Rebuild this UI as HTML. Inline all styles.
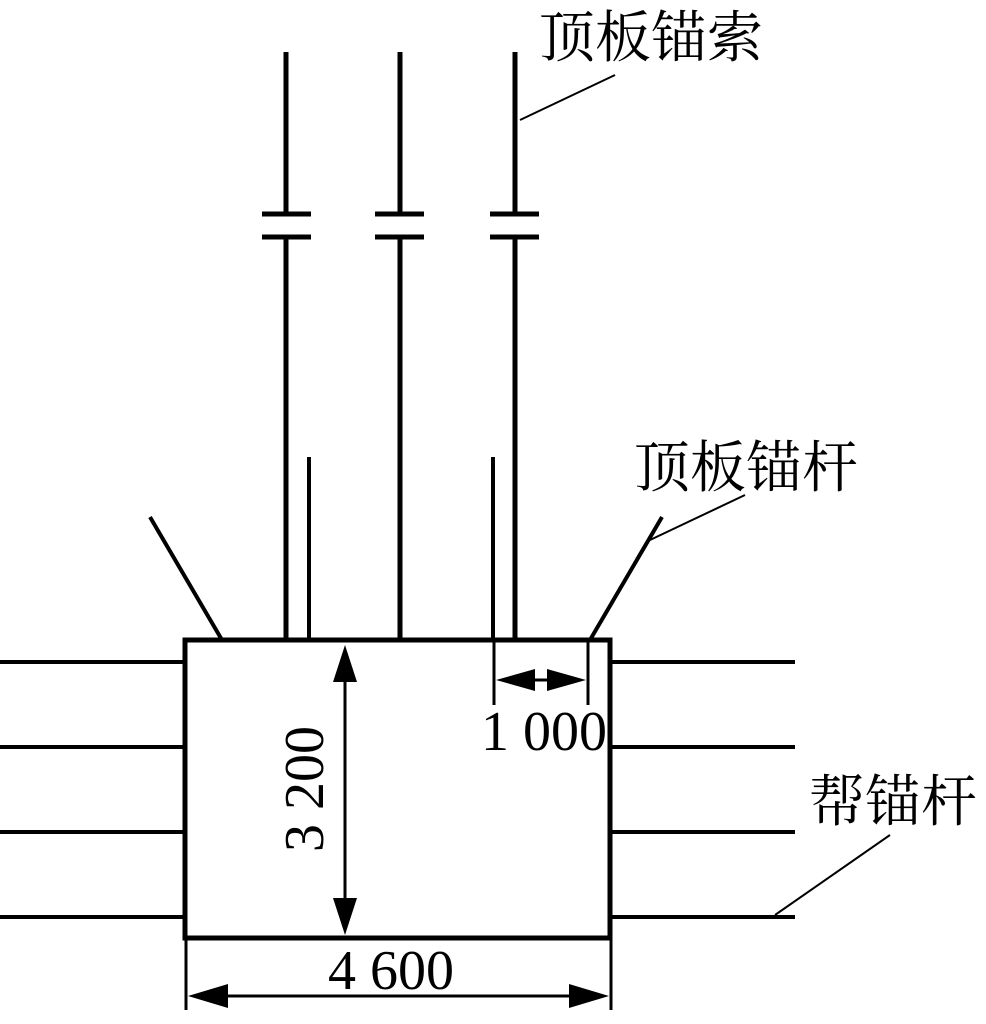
<!DOCTYPE html>
<html><head><meta charset="utf-8"><style>html,body{margin:0;padding:0;background:#fff}svg{display:block}</style></head>
<body>
<svg width="986" height="1024" viewBox="0 0 986 1024" xmlns="http://www.w3.org/2000/svg">
<g stroke="#000" fill="none" stroke-linecap="butt">
<rect x="185" y="640" width="425" height="298" stroke-width="5"/>
<g stroke-width="5">
<line x1="286" y1="52" x2="286" y2="214"/><line x1="286" y1="237" x2="286" y2="640"/>
<line x1="400" y1="52" x2="400" y2="214"/><line x1="400" y1="237" x2="400" y2="640"/>
<line x1="515" y1="52" x2="515" y2="214"/><line x1="515" y1="237" x2="515" y2="640"/>
<line x1="262" y1="214" x2="311" y2="214"/><line x1="262" y1="237" x2="311" y2="237"/>
<line x1="375" y1="214" x2="424" y2="214"/><line x1="375" y1="237" x2="424" y2="237"/>
<line x1="490" y1="214" x2="539" y2="214"/><line x1="490" y1="237" x2="539" y2="237"/>
</g>
<g stroke-width="4">
<line x1="309" y1="457" x2="309" y2="640"/>
<line x1="493" y1="457" x2="493" y2="640"/>
<line x1="150" y1="517" x2="222" y2="640"/>
<line x1="662" y1="517" x2="590" y2="640"/>
<line x1="0" y1="662" x2="185" y2="662"/><line x1="0" y1="747" x2="185" y2="747"/>
<line x1="0" y1="832" x2="185" y2="832"/><line x1="0" y1="917" x2="185" y2="917"/>
<line x1="610" y1="662" x2="795" y2="662"/><line x1="610" y1="747" x2="795" y2="747"/>
<line x1="610" y1="832" x2="795" y2="832"/><line x1="610" y1="917" x2="795" y2="917"/>
</g>
<g stroke-width="3">
<line x1="345" y1="660" x2="345" y2="920"/>
<line x1="186" y1="940" x2="186" y2="1010"/><line x1="611" y1="940" x2="611" y2="1010"/>
<line x1="200" y1="996" x2="597" y2="996"/>
<line x1="494" y1="640" x2="494" y2="705"/><line x1="588" y1="640" x2="588" y2="705"/>
<line x1="505" y1="680" x2="578" y2="680"/>
</g>
<g stroke-width="2">
<line x1="520" y1="120" x2="615" y2="75"/>
<line x1="650" y1="540" x2="745" y2="495"/>
<line x1="775" y1="915" x2="890" y2="835"/>
</g>
</g>
<g fill="#000">
<polygon points="345,645 333,682 357,682"/>
<polygon points="345,935 333,898 357,898"/>
<polygon points="188,996 228,984 228,1008"/>
<polygon points="609,996 569,984 569,1008"/>
<polygon points="496,680 535,669 535,691"/>
<polygon points="586,680 547,669 547,691"/>
</g>
<g font-family="Liberation Serif, serif" font-size="56" fill="#000">
<text x="391" y="989" text-anchor="middle">4 600</text>
<text x="544" y="750" text-anchor="middle">1 000</text>
<text transform="translate(323,789) rotate(-90)" text-anchor="middle">3 200</text>
</g>
<g font-family="Liberation Serif, 'Noto Serif CJK SC', serif" font-size="56" fill="#000">
<text x="539" y="57">顶板锚索</text>
<text x="634" y="487">顶板锚杆</text>
<text x="809" y="821">帮锚杆</text>
</g>
</svg>
</body></html>
